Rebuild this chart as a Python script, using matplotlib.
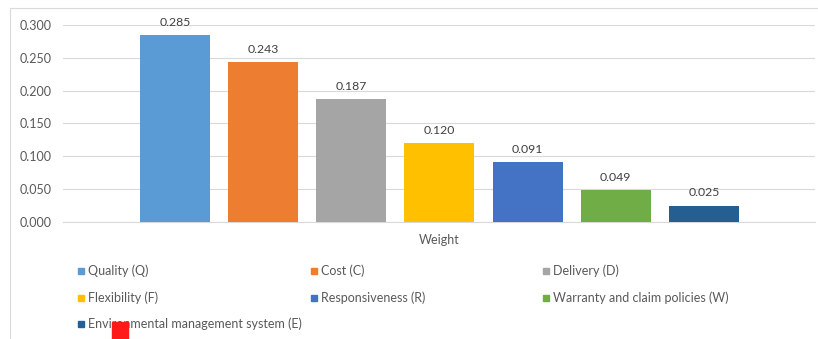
import matplotlib
matplotlib.use("Agg")
import matplotlib.pyplot as plt
from matplotlib.patches import Rectangle

series = ["Quality (Q)", "Cost (C)", "Delivery (D)", "Flexibility (F)",
          "Responsiveness (R)", "Warranty and claim policies (W)",
          "Environmental management system (E)"]
values = [0.285, 0.243, 0.187, 0.120, 0.091, 0.049, 0.025]
colors = ["#5B9BD5", "#ED7D31", "#A5A5A5", "#FFC000", "#4472C4", "#70AD47", "#255E91"]
category = "Weight"
yticks = [0.0, 0.05, 0.10, 0.15, 0.20, 0.25, 0.30]

plt.rcParams['font.family'] = ['Lato', 'DejaVu Sans']

W, H = 818, 339
fig = plt.figure(figsize=(W / 100, H / 100), dpi=100)
fig.patch.set_facecolor("white")

# chart frame
fig.add_artist(Rectangle((10 / W, -0.1), 1.2, 1 - 8 / H + 0.1, transform=fig.transFigure,
                         fill=False, edgecolor="#d9d9d9", lw=0.8))

ax = fig.add_axes([63 / W, 1 - 222 / H, (815 - 63) / W, (222 - 25) / H])
ax.set_facecolor("none")
x = list(range(len(values)))
bars = ax.bar(x, values, width=0.795, color=colors, zorder=3)
for xi, v in zip(x, values):
    ax.text(xi, v + 0.011, f"{v:.3f}", ha="center", va="bottom", fontsize=8.8,
            color="#404040")
ax.set_xlim(-1.27, 7.26)
ax.set_ylim(0, 0.30)
ax.set_yticks(yticks)
ax.set_yticklabels([f"{t:.3f}" for t in yticks], fontsize=9, color="#595959")
ax.set_xticks([3])
ax.set_xticklabels([category], fontsize=9, color="#595959")
ax.tick_params(length=0, pad=8)
ax.tick_params(axis="x", pad=9)
ax.grid(axis="y", color="#d9d9d9", lw=0.8, zorder=0)
for s in ["top", "right", "left"]:
    ax.spines[s].set_visible(False)
ax.spines["bottom"].set_color("#d9d9d9")
ax.spines["bottom"].set_linewidth(0.8)

# legend (manual grid, 3 columns)
col_x = [78, 311, 543]
row_y = [271, 298, 324]
for i, (name, c) in enumerate(zip(series, colors)):
    r, k = divmod(i, 3)
    px, py = col_x[k], row_y[r]
    fig.add_artist(Rectangle((px / W, 1 - (py + 3) / H), 6 / W, 6 / H,
                             transform=fig.transFigure, color=c))
    fig.text((px + 10) / W, 1 - py / H, name, fontsize=9, color="#595959",
             va="center", ha="left")

# red marker artifact
fig.add_artist(Rectangle((112 / W, 0), 16 / W, 17 / H, transform=fig.transFigure,
                         color="#ff1a1a", zorder=10))

fig.savefig("out.png", dpi=100)
